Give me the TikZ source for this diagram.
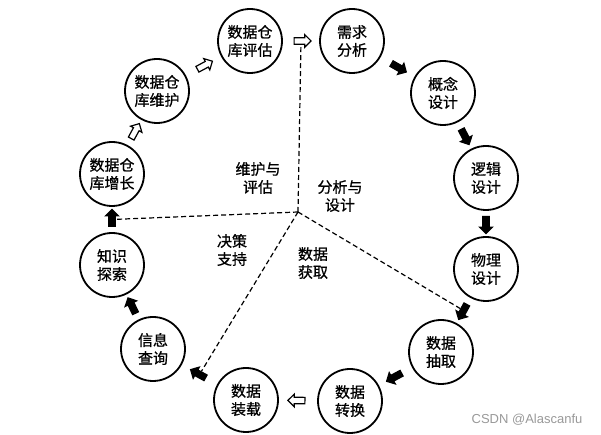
\documentclass[tikz,border=0pt]{standalone}
\usepackage{fontspec}
\newfontfamily\cjk[FakeBold=0.8]{Noto Sans CJK SC}
\newfontfamily\latin{Liberation Sans}
\usetikzlibrary{shapes.arrows}
\tikzset{stage/.style={draw,circle,line width=1.8pt,minimum size=64pt,inner sep=0pt,align=center},
 fat/.style={single arrow,draw,line width=1.2pt,fill=black,inner xsep=0pt,inner ysep=2.6pt,minimum height=17pt,single arrow head extend=3.2pt,sloped,allow upside down},
 hollow/.style={fat,fill=white},
 zone/.style={align=center},
 split/.style={line width=1.2pt,dash pattern=on 5pt off 3pt}}
\begin{document}
\begin{tikzpicture}[x=1pt,y=1pt,font=\cjk\fontsize{15}{18}\selectfont]
\useasboundingbox (0,0) rectangle (601,435);
% stages of the cycle
\node[stage] (pg) at (250,394) {数据仓\\库评估};\node[stage] (xq) at (352,394) {需求\\分析};
\node[stage] (gn) at (443,342) {概念\\设计};\node[stage] (lj) at (486,257) {逻辑\\设计};
\node[stage] (wl) at (486,166) {物理\\设计};\node[stage] (cq) at (441,83) {数据\\抽取};
\node[stage] (zh) at (350,34) {数据\\转换};\node[stage] (zz) at (246,35) {数据\\装载};
\node[stage] (cx) at (153,86) {信息\\查询};\node[stage] (ts) at (112,170) {知识\\探索};
\node[stage] (zc) at (112,261) {数据仓\\库增长};\node[stage] (wh) at (157,344) {数据仓\\库维护};
% arrows between stages
\path (pg) -- node[hollow] (a1) {} (xq);\path (xq) -- node[fat] (a2) {} (gn);\path (gn) -- node[fat] (a3) {} (lj);
\path (lj) -- node[fat] (a4) {} (wl);\path (wl) -- node[fat] (a5) {} (cq);\path (cq) -- node[fat] (a6) {} (zh);
\path (zh) -- node[hollow] (a7) {} (zz);\path (zz) -- node[fat] (a8) {} (cx);\path (cx) -- node[fat] (a9) {} (ts);
\path (ts) -- node[fat] (a10) {} (zc);\path (zc) -- node[hollow] (a11) {} (wh);\path (wh) -- node[hollow] (a12) {} (pg);
% dashed split
\coordinate (hub) at (298,223);
\draw[split] (hub)--(a1);\draw[split] (hub)--(a5);\draw[split] (hub)--(a8);\draw[split] (hub)--(a10);
\node[zone] (z1) at (258,257) {维护与\\评估};\node[zone] (z2) at (340,239) {分析与\\设计};
\node[zone] (z3) at (232,185) {决策\\支持};\node[zone] (z4) at (313,172) {数据\\获取};
\node[text=gray!80,font=\latin\fontsize{13}{15}\selectfont] (wm) at (527,15) {CSDN @Alascanfu};
\end{tikzpicture}
\end{document}
